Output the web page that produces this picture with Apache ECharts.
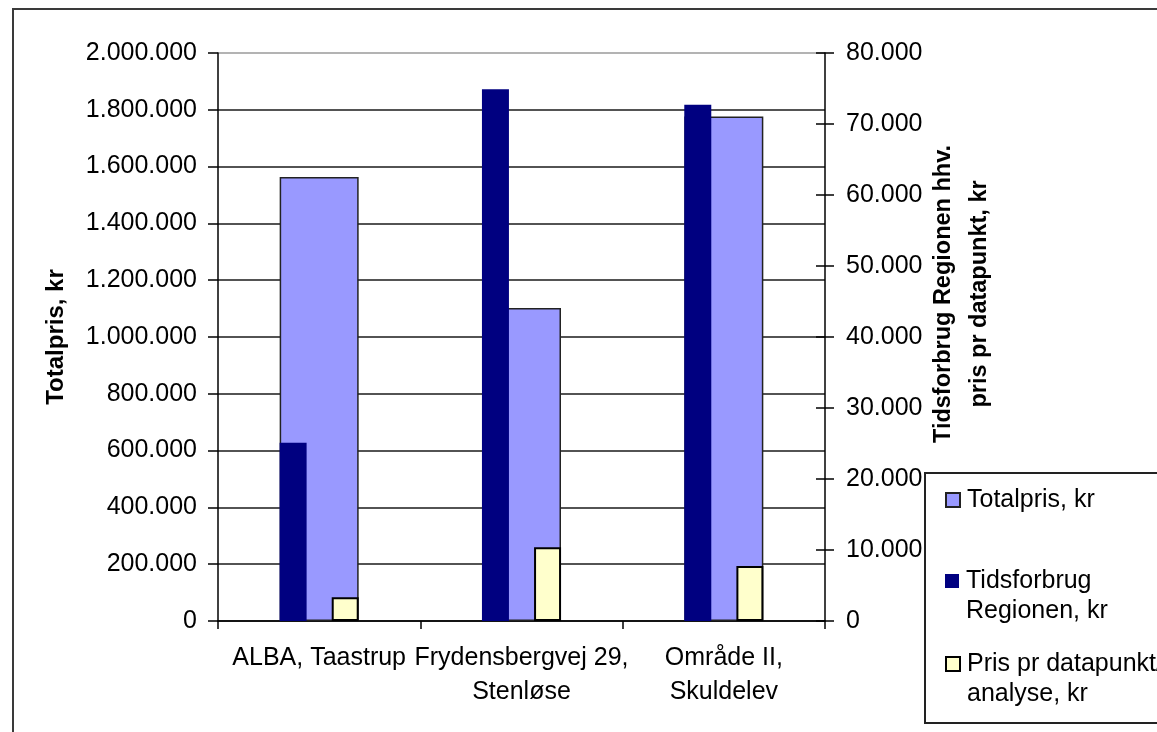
<!DOCTYPE html>
<html>
<head>
<meta charset="utf-8">
<script src="https://cdn.jsdelivr.net/npm/echarts@6/dist/echarts.min.js"></script>
<style>
  html, body { margin: 0; padding: 0; background: #fff; }
  #chart { width: 1157px; height: 732px; }
</style>
</head>
<body>
<div id="chart"></div>
<script>
// ---- data ----
const categories = ['ALBA, Taastrup', 'Frydensbergvej 29,\nStenløse', 'Område II,\nSkuldelev'];
const seriesNames = ['Totalpris, kr', 'Tidsforbrug Regionen, kr', 'Pris pr datapunkt/analyse, kr'];
const legendLabels = ['Totalpris, kr', 'Tidsforbrug\nRegionen, kr', 'Pris pr datapunkt/\nanalyse, kr'];
const totalpris = [1563000, 1102000, 1776000];
const tidsforbrug = [25100, 74900, 72700];
const prisPrDatapunkt = [3340, 10380, 7750];
const leftAxisRange = [0, 2000000, 200000];
const rightAxisRange = [0, 80000, 10000];
const leftAxisTitle = 'Totalpris, kr';
const rightAxisTitle = 'Tidsforbrug Regionen hhv.\npris pr datapunkt, kr';

// ---- chart ----
const FONT = '"Liberation Sans", Arial, sans-serif';
const fmt = v => String(v).replace(/\B(?=(\d{3})+(?!\d))/g, '.');
const labelMap = {};
seriesNames.forEach((n, i) => { labelMap[n] = legendLabels[i]; });

const gridColors = [];
for (let i = 0; i < 10; i++) gridColors.push('#1a1a1a');
gridColors.push('#9a9a9a');

const chart = echarts.init(document.getElementById('chart'), null, { renderer: 'canvas' });

// multi-line legend entries get a leading empty line so that the icon sits
// level with the first text line (as in the original legend)
function legendFor(i, top) {
  const multi = legendLabels[i].indexOf('\n') >= 0;
  return {
    orient: 'vertical',
    left: 945,
    top: top,
    padding: 0,
    itemWidth: 14,
    itemHeight: 14,
    icon: 'rect',
    selectedMode: false,
    data: [seriesNames[i]],
    formatter: n => (multi ? '\n' : '') + labelMap[n],
    textStyle: { fontFamily: FONT, fontSize: 25, color: '#000', lineHeight: 30, padding: [0, 0, 0, 2] }
  };
}

const option = {
  backgroundColor: '#fff',
  animation: false,
  textStyle: { fontFamily: FONT },
  grid: { left: 218, right: 332, top: 53, bottom: 111, containLabel: false, outerBoundsMode: 'none' },
  legend: [
    legendFor(0, 485),
    legendFor(1, 536),
    legendFor(2, 619)
  ],
  graphic: [
    { type: 'rect', z: 0, silent: true,
      shape: { x: 13, y: 9, width: 2000, height: 2000 },
      style: { fill: 'none', stroke: '#3a3a3a', lineWidth: 2 } },
    { type: 'rect', z: 1, silent: true,
      shape: { x: 925, y: 473, width: 400, height: 250 },
      style: { fill: '#fff', stroke: '#222', lineWidth: 2 } }
  ],
  xAxis: [
    {
      type: 'category', data: categories, position: 'bottom',
      axisLine: { show: true, lineStyle: { color: '#000', width: 1.5 } },
      axisTick: { show: true, length: 8, lineStyle: { color: '#000', width: 1.5 } },
      axisLabel: { interval: 0, margin: 20, fontFamily: FONT, fontSize: 25, lineHeight: 34, color: '#000' },
      splitLine: { show: false }
    },
    {
      type: 'category', data: categories, show: false
    }
  ],
  yAxis: [
    {
      type: 'value', position: 'left',
      min: leftAxisRange[0], max: leftAxisRange[1], interval: leftAxisRange[2],
      axisLine: { show: true, lineStyle: { color: '#000', width: 1.5 } },
      axisTick: { show: true, length: 10, lineStyle: { color: '#000', width: 1.5 } },
      axisLabel: { margin: 21, fontFamily: FONT, fontSize: 25, color: '#000', formatter: fmt },
      splitLine: { show: true, lineStyle: { color: gridColors, width: 1.5 } },
      name: leftAxisTitle, nameLocation: 'middle', nameGap: 148, nameMoveOverlap: false,
      nameTextStyle: { fontFamily: FONT, fontSize: 24, fontWeight: 'bold', color: '#000', lineHeight: 28 }
    },
    {
      type: 'value', position: 'right',
      min: rightAxisRange[0], max: rightAxisRange[1], interval: rightAxisRange[2],
      axisLine: { show: true, lineStyle: { color: '#000', width: 1.5 } },
      axisTick: { show: true, length: 9, lineStyle: { color: '#000', width: 1.5 } },
      axisLabel: { margin: 21, fontFamily: FONT, fontSize: 25, color: '#000', formatter: fmt },
      splitLine: { show: false },
      name: rightAxisTitle, nameLocation: 'middle', nameGap: 101, nameMoveOverlap: false,
      nameTextStyle: { fontFamily: FONT, fontSize: 23.5, fontWeight: 'bold', color: '#000', lineHeight: 36, align: 'center', padding: [0, 0, 0, 86] }
    },
    {
      type: 'value', position: 'right',
      min: rightAxisRange[0], max: rightAxisRange[1], interval: rightAxisRange[2],
      axisLine: { show: false },
      axisTick: { show: true, inside: true, length: 9, lineStyle: { color: '#000', width: 1.5 } },
      axisLabel: { show: false },
      splitLine: { show: false }
    }
  ],
  series: [
    {
      name: seriesNames[0], type: 'bar', xAxisIndex: 0, yAxisIndex: 0,
      data: totalpris, barWidth: 79,
      itemStyle: { color: '#9999ff', borderColor: '#222', borderWidth: 1.5 }
    },
    {
      name: seriesNames[1], type: 'bar', xAxisIndex: 1, yAxisIndex: 1,
      data: tidsforbrug, barWidth: 27, barGap: '93%',
      itemStyle: { color: '#000080', borderWidth: 0 }
    },
    {
      name: seriesNames[2], type: 'bar', xAxisIndex: 1, yAxisIndex: 1,
      data: prisPrDatapunkt, barWidth: 27, barGap: '93%',
      itemStyle: { color: '#ffffcc', borderColor: '#000', borderWidth: 2 }
    }
  ]
};
chart.setOption(option);
</script>
</body>
</html>
